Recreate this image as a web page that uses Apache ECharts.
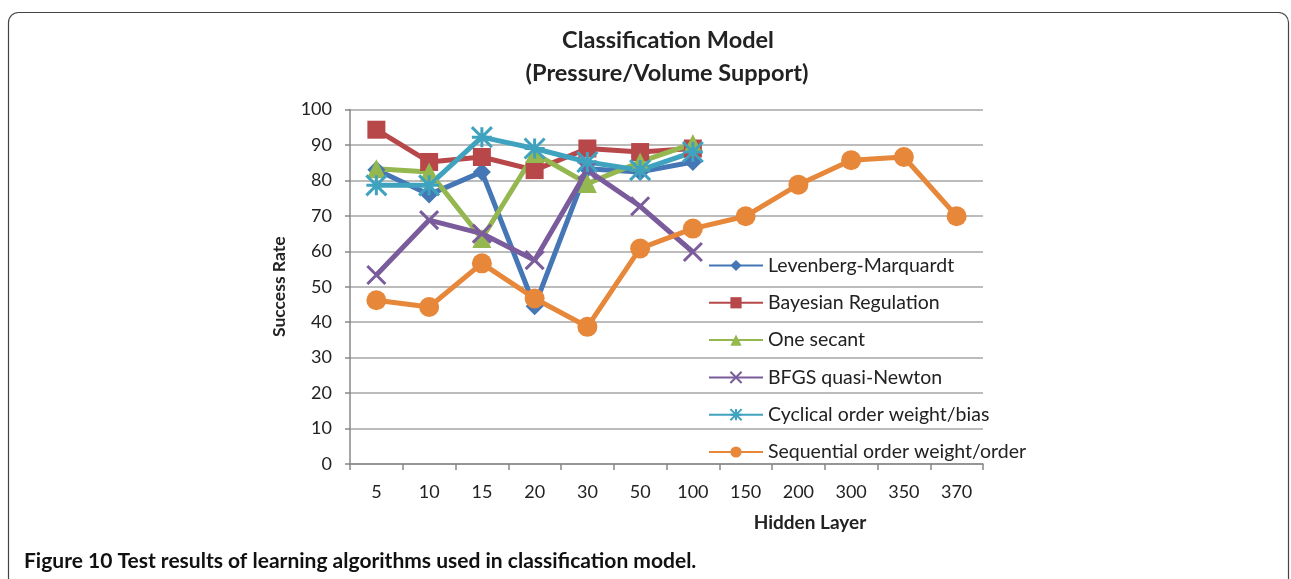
<!DOCTYPE html>
<html>
<head>
<meta charset="utf-8">
<script src="https://cdn.jsdelivr.net/npm/echarts@6/dist/echarts.min.js"></script>
<style>
  html, body { margin: 0; padding: 0; background: #fff; overflow: hidden; }
  #chart { width: 1291px; height: 579px; }
</style>
</head>
<body>
<div id="chart"></div>
<script>
// hidden layer sizes (x categories)
var hiddenLayers = ['5', '10', '15', '20', '30', '50', '100', '150', '200', '300', '350', '370'];
var yTicks = [0, 100, 10]; // min, max, step

// success rate per algorithm
var levenberg  = [83, 76, 82.4, 44.5, 83.3, 82.4, 85.2];
var bayesian   = [94.3, 85.2, 86.6, 82.9, 89, 88, 89];
var oneSecant  = [83.3, 82.4, 63.6, 87.6, 79.1, 85.2, 90.4];
var bfgs       = [53.3, 68.8, 65, 57.5, 82.9, 72.7, 59.8];
var cyclical   = [78.6, 78.6, 92.2, 89, 85.2, 82.9, 88];
var sequential = [46.2, 44.3, 56.6, 46.7, 38.7, 60.8, 66.4, 69.9, 78.8, 85.7, 86.6, 69.9];

var FONT = 'Lato';
var chart = echarts.init(document.getElementById('chart'));

function mkSeries(name, data, color, symbol, size, stroke) {
  return {
    name: name,
    type: 'line',
    data: data,
    symbol: symbol,
    symbolSize: size,
    showAllSymbol: true,
    lineStyle: { color: color, width: 5 },
    itemStyle: { color: stroke ? 'rgba(0,0,0,0)' : color, borderColor: color, borderWidth: stroke ? 3 : 0 },
    emphasis: { disabled: true }
  };
}

chart.setOption({
  animation: false,
  textStyle: { fontFamily: FONT },
  grid: { left: 350, right: 308, top: 109.5, bottom: 115 },
  legend: {
    orient: 'vertical',
    left: 708,
    top: 254.5,
    padding: 0,
    itemWidth: 54,
    itemHeight: 14,
    itemGap: 15.3,
    textStyle: { fontSize: 19.5, color: '#222', lineHeight: 22, fontFamily: FONT }
  },
  xAxis: {
    type: 'category',
    data: hiddenLayers,
    boundaryGap: true,
    axisLine: { lineStyle: { color: '#888', width: 1.5 } },
    axisTick: { show: true, length: 6, lineStyle: { color: '#888', width: 1.5 } },
    axisLabel: { fontSize: 18, color: '#222', margin: 19 }
  },
  yAxis: {
    type: 'value',
    min: yTicks[0],
    max: yTicks[1],
    interval: yTicks[2],
    name: 'Success Rate',
    nameLocation: 'middle',
    nameGap: 62,
    nameTextStyle: { fontSize: 17.5, fontWeight: 'bold', color: '#222' },
    axisLine: { show: true, lineStyle: { color: '#888', width: 1.5 } },
    axisTick: { show: true, length: 5, lineStyle: { color: '#888', width: 1.5 } },
    axisLabel: { fontSize: 18, color: '#222', margin: 18 },
    splitLine: { lineStyle: { color: '#a6a6a6', width: 1.5 } }
  },
  graphic: [
    { type: 'rect', shape: { x: 8.5, y: 12.5, width: 1280, height: 640, r: 10 },
      style: { fill: 'none', stroke: '#444', lineWidth: 1.2 }, silent: true },
    { type: 'text', x: 668, y: 40, style: { text: 'Classification Model', fontSize: 23.5, fontWeight: 'bold',
      fontFamily: FONT, fill: '#222', align: 'center', verticalAlign: 'middle' } },
    { type: 'text', x: 667, y: 73, style: { text: '(Pressure/Volume Support)', fontSize: 23.5, fontWeight: 'bold',
      fontFamily: FONT, fill: '#222', align: 'center', verticalAlign: 'middle' } },
    { type: 'text', x: 810, y: 523, style: { text: 'Hidden Layer', fontSize: 19, fontWeight: 'bold',
      fontFamily: FONT, fill: '#222', align: 'center', verticalAlign: 'middle' } },
    { type: 'text', x: 24, y: 561, style: { text: 'Figure 10 Test results of learning algorithms used in classification model.',
      fontSize: 21, fontWeight: 'bold', fontFamily: FONT, fill: '#111', align: 'left', verticalAlign: 'middle' } }
  ],
  series: [
    mkSeries('Levenberg-Marquardt', levenberg, '#4576b5', 'diamond', 18),
    mkSeries('Bayesian Regulation', bayesian, '#b8474a', 'rect', 18),
    mkSeries('One secant', oneSecant, '#95b74f', 'triangle', 19),
    mkSeries('BFGS quasi-Newton', bfgs, '#7a5b9b', 'path://M0,0L10,10M10,0L0,10', 18, true),
    mkSeries('Cyclical order weight/bias', cyclical, '#3fa3bf', 'path://M5,0L5,10M0,0L10,10M10,0L0,10M0,5L10,5', 20, true),
    mkSeries('Sequential order weight/order', sequential, '#e6873a', 'circle', 20)
  ]
});
</script>
</body>
</html>
